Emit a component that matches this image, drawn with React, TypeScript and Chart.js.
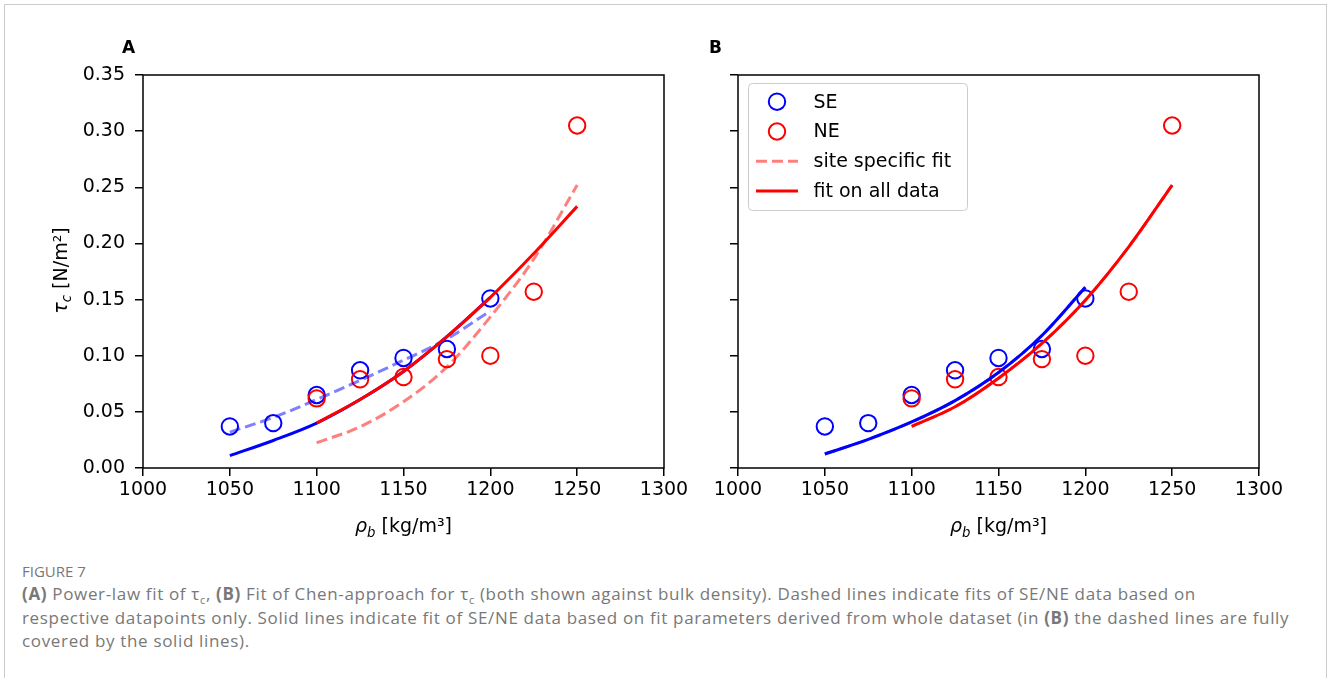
import React, { useEffect, useRef } from "react";
import { Chart, registerables } from "chart.js";

Chart.register(...registerables);

// ---------- data ----------
const xTickValues = [1000, 1050, 1100, 1150, 1200, 1250, 1300];
const yTickValues = [0, 0.05, 0.1, 0.15, 0.2, 0.25, 0.3, 0.35];

const rhoSE = [1050, 1075, 1100, 1125, 1150, 1175, 1200];
const tauSE = [0.037, 0.04, 0.065, 0.087, 0.098, 0.106, 0.151];
const rhoNE = [1100, 1125, 1150, 1175, 1200, 1225, 1250];
const tauNE = [0.062, 0.079, 0.081, 0.097, 0.1, 0.157, 0.305];

// Panel A (power-law fit)
const seSiteFitA = [0.032, 0.045, 0.061, 0.078, 0.096, 0.115, 0.14];
const neSiteFitA = [0.0225, 0.0367, 0.059, 0.09, 0.1346, 0.186, 0.252];
const seAllFitA = [0.011, 0.0245, 0.04, 0.061, 0.086, 0.117, 0.152];
const neAllFitA = [0.04, 0.061, 0.086, 0.117, 0.152, 0.191, 0.233];

// Panel B (Chen approach fit)
const seSiteFitB = [0.0125, 0.0255, 0.041, 0.06, 0.085, 0.118, 0.161];
const neSiteFitB = [0.037, 0.0545, 0.08, 0.111, 0.1495, 0.197, 0.252];
const seAllFitB = [0.0125, 0.0255, 0.041, 0.06, 0.085, 0.118, 0.161];
const neAllFitB = [0.037, 0.0545, 0.08, 0.111, 0.1495, 0.197, 0.252];

const legendLabels = ["SE", "NE", "site specific fit", "fit on all data"];

// ---------- styling ----------
const BLUE = "#0000ff";
const RED = "#ff0000";
const BLUE_DASH = "rgba(0,0,255,0.5)";
const RED_DASH = "rgba(255,0,0,0.5)";
const FONT = "'DejaVu Sans', 'Liberation Sans', sans-serif";
const FS = 19;

const zip = (xs: number[], ys: number[]) => xs.map((x, i) => ({ x, y: ys[i] }));

type Part = { t: string; italic?: boolean; sub?: boolean };

function drawParts(ctx: CanvasRenderingContext2D, parts: Part[], cx: number, baseline: number, size: number) {
  const fonts = parts.map((p) => `${p.italic ? "italic " : ""}${p.sub ? size * 0.7 : size}px ${FONT}`);
  const widths = parts.map((p, i) => {
    ctx.font = fonts[i];
    return ctx.measureText(p.t).width;
  });
  const total = widths.reduce((a, b) => a + b, 0);
  let x = cx - total / 2;
  ctx.textAlign = "left";
  ctx.textBaseline = "alphabetic";
  parts.forEach((p, i) => {
    ctx.font = fonts[i];
    ctx.fillText(p.t, x, baseline + (p.sub ? size * 0.24 : 0));
    x += widths[i];
  });
}

const xTitle: Part[] = [
  { t: "ρ", italic: true },
  { t: "b", italic: true, sub: true },
  { t: " [kg/m³]" },
];
const yTitle: Part[] = [
  { t: "τ", italic: true },
  { t: "c", italic: true, sub: true },
  { t: " [N/m²]" },
];

function makeConfig(panel: "A" | "B"): any {
  const isA = panel === "A";
  const seSite = isA ? seSiteFitA : seSiteFitB;
  const neSite = isA ? neSiteFitA : neSiteFitB;
  const seAll = isA ? seAllFitA : seAllFitB;
  const neAll = isA ? neAllFitA : neAllFitB;

  const lineDs = (data: number[], xs: number[], color: string, dashed: boolean) => ({
    type: "scatter",
    data: zip(xs, data),
    showLine: true,
    borderColor: color,
    backgroundColor: color,
    borderWidth: 3,
    borderDash: dashed ? [11, 5] : [],
    borderCapStyle: "butt",
    pointRadius: 0,
    pointHoverRadius: 0,
    cubicInterpolationMode: "monotone",
    tension: 0.4,
  });
  const pointDs = (xs: number[], ys: number[], color: string) => ({
    type: "scatter",
    data: zip(xs, ys),
    showLine: false,
    borderColor: color,
    backgroundColor: "rgba(0,0,0,0)",
    borderWidth: 2,
    pointRadius: 8.2,
    pointStyle: "circle",
  });

  const framePlugin = {
    id: "frame" + panel,
    afterDraw(chart: any) {
      const { ctx, chartArea: a } = chart;
      ctx.save();
      ctx.strokeStyle = "#000";
      ctx.lineWidth = 1.5;
      ctx.strokeRect(a.left, a.top, a.right - a.left, a.bottom - a.top);
      ctx.fillStyle = "#000";
      // panel label
      ctx.font = `bold 17px ${FONT}`;
      ctx.textAlign = "left";
      ctx.textBaseline = "alphabetic";
      ctx.fillText(panel, isA ? a.left - 21 : a.left - 29, 53);
      // x title
      drawParts(ctx, xTitle, (a.left + a.right) / 2, 532, FS);
      // y title (panel A only)
      if (isA) {
        ctx.save();
        ctx.translate(66.5, (a.top + a.bottom) / 2 - 1);
        ctx.rotate(-Math.PI / 2);
        drawParts(ctx, yTitle, 0, 0, FS);
        ctx.restore();
      }
      ctx.restore();
    },
  };

  const legendPlugin = {
    id: "legendB",
    afterDraw(chart: any) {
      if (isA) return;
      const { ctx, chartArea: a } = chart;
      const L = a.left + 10;
      const T = a.top + 8;
      const W = 219;
      const H = 127;
      ctx.save();
      ctx.beginPath();
      (ctx as any).roundRect(L + 0.5, T + 0.5, W, H, 4);
      ctx.fillStyle = "rgba(255,255,255,0.8)";
      ctx.fill();
      ctx.strokeStyle = "#cccccc";
      ctx.lineWidth = 1;
      ctx.stroke();
      const rows = [18.7, 48.5, 78.2, 108];
      const kinds = ["pointSE", "pointNE", "dash", "solid"];
      rows.forEach((dy, i) => {
        const y = T + dy;
        const k = kinds[i];
        if (k === "pointSE" || k === "pointNE") {
          ctx.beginPath();
          ctx.arc(L + 29, y, 8.2, 0, Math.PI * 2);
          ctx.strokeStyle = k === "pointSE" ? BLUE : RED;
          ctx.lineWidth = 2;
          ctx.setLineDash([]);
          ctx.stroke();
        } else {
          ctx.beginPath();
          ctx.moveTo(L + 8, y);
          ctx.lineTo(L + 50, y);
          ctx.lineWidth = 3;
          ctx.strokeStyle = k === "dash" ? RED_DASH : RED;
          ctx.setLineDash(k === "dash" ? [11, 5] : []);
          ctx.lineCap = "butt";
          ctx.stroke();
        }
        ctx.setLineDash([]);
        ctx.fillStyle = "#000";
        ctx.font = `${FS}px ${FONT}`;
        ctx.textAlign = "left";
        ctx.textBaseline = "middle";
        ctx.fillText(legendLabels[i], L + 65.5, y + 1);
      });
      ctx.restore();
    },
  };

  return {
    type: "scatter",
    data: {
      datasets: [
        lineDs(neAll, rhoNE, RED, false),
        lineDs(seAll, rhoSE, BLUE, false),
        lineDs(neSite, rhoNE, RED_DASH, true),
        lineDs(seSite, rhoSE, BLUE_DASH, true),
        pointDs(rhoNE, tauNE, RED),
        pointDs(rhoSE, tauSE, BLUE),
      ],
    },
    options: {
      responsive: false,
      animation: false,
      devicePixelRatio: 1,
      events: [],
      layout: { padding: { left: 0, top: 75, right: isA ? 36 : 41, bottom: 0 } },
      plugins: { legend: { display: false }, tooltip: { enabled: false } },
      scales: {
        x: {
          type: "linear",
          min: 1000,
          max: 1300,
          afterBuildTicks: (s: any) => {
            s.ticks = xTickValues.map((value) => ({ value }));
          },
          afterFit: (s: any) => {
            s.height = 77;
          },
          grid: { drawOnChartArea: false, drawTicks: true, tickLength: 8, color: "#000", lineWidth: 1.5 },
          border: { display: false },
          ticks: {
            font: { family: FONT, size: FS },
            color: "#000",
            padding: 3,
            maxRotation: 0,
            autoSkip: false,
            callback: (v: any) => String(v),
          },
        },
        y: {
          type: "linear",
          min: 0,
          max: 0.35,
          afterBuildTicks: (s: any) => {
            s.ticks = yTickValues.map((value) => ({ value }));
          },
          afterFit: (s: any) => {
            s.width = isA ? 143 : 58;
          },
          grid: { drawOnChartArea: false, drawTicks: true, tickLength: 8, color: "#000", lineWidth: 1.5 },
          border: { display: false },
          ticks: {
            font: { family: FONT, size: FS },
            color: "#000",
            padding: 10,
            autoSkip: false,
            callback: (v: any) => (isA ? Number(v).toFixed(2) : ""),
          },
        },
      },
    },
    plugins: [framePlugin, legendPlugin],
  };
}

function Panel({ panel, left, width, height }: { panel: "A" | "B"; left: number; width: number; height: number }) {
  const ref = useRef<HTMLCanvasElement>(null);
  useEffect(() => {
    const chart = new Chart(ref.current as HTMLCanvasElement, makeConfig(panel));
    return () => chart.destroy();
  }, [panel]);
  return (
    <canvas
      ref={ref}
      width={width}
      height={height}
      style={{ position: "absolute", left, top: 0, width, height }}
    />
  );
}

const capColor = "#787878";
const capFont = "'Open Sans', 'Noto Sans', sans-serif";
const subStyle = { fontSize: 11, lineHeight: 0 };

export default function App() {
  return (
    <div
      style={{
        position: "absolute",
        left: 0,
        top: 0,
        width: 1328,
        height: 678,
        overflow: "hidden",
        background: "#fff",
      }}
    >
      <div
        style={{
          position: "absolute",
          left: 4,
          top: 4,
          width: 1323,
          height: 720,
          border: "1px solid #cbcbcb",
          boxSizing: "border-box",
        }}
      />
      <Panel panel="A" left={0} width={700} height={545} />
      <Panel panel="B" left={680} width={620} height={545} />
      <div
        style={{
          position: "absolute",
          left: 22,
          top: 561,
          fontFamily: capFont,
          fontSize: 15,
          lineHeight: "20px",
          color: capColor,
          whiteSpace: "nowrap",
        }}
      >
        FIGURE 7
      </div>
      <div
        style={{
          position: "absolute",
          left: 22,
          top: 582,
          fontFamily: capFont,
          fontSize: 17,
          letterSpacing: "0.66px",
          lineHeight: "23.5px",
          color: capColor,
          whiteSpace: "nowrap",
        }}
      >
        <div>
          <b>(A)</b> Power-law fit of τ<sub style={subStyle}>c</sub>, <b>(B)</b> Fit of Chen-approach for τ
          <sub style={subStyle}>c</sub> (both shown against bulk density). Dashed lines indicate fits of SE/NE data
          based on
        </div>
        <div>
          respective datapoints only. Solid lines indicate fit of SE/NE data based on fit parameters derived from
          whole dataset (in <b>(B)</b> the dashed lines are fully
        </div>
        <div>covered by the solid lines).</div>
      </div>
    </div>
  );
}
